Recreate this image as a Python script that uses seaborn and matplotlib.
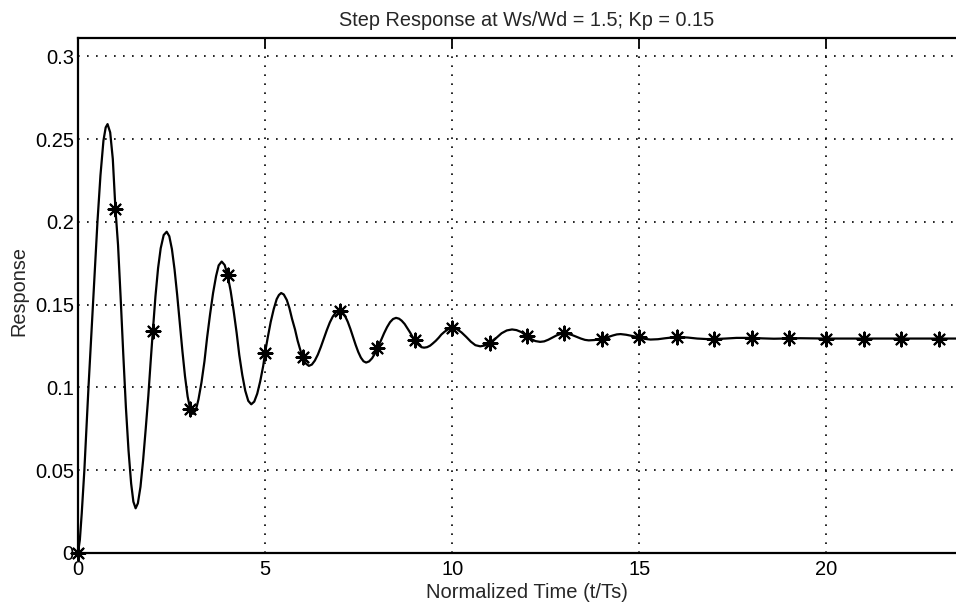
import matplotlib
matplotlib.use("Agg")
import matplotlib.pyplot as plt
import seaborn as sns
import pandas as pd

# ---- data ----
curve_t = [0, 0.05, 0.10, 0.17, 0.28, 0.40, 0.52, 0.60, 0.68, 0.74, 0.79,
           0.86, 0.93, 1.00, 1.07, 1.14, 1.21, 1.28, 1.35, 1.42, 1.48, 1.54,
           1.60, 1.67, 1.74, 1.81, 1.88, 1.94, 2.00, 2.07, 2.14, 2.21, 2.29, 2.37,
           2.44, 2.51, 2.58, 2.65, 2.72, 2.79, 2.86, 2.93, 3.00, 3.07,
           3.15, 3.22, 3.30, 3.38, 3.45, 3.53, 3.61, 3.69, 3.76, 3.84,
           3.92, 4.00, 4.08, 4.16, 4.24, 4.31, 4.39, 4.47, 4.55, 4.63,
           4.71, 4.79, 4.87, 4.95, 5.00, 5.07, 5.15, 5.23, 5.31, 5.37, 5.43,
           5.50, 5.58, 5.65, 5.72, 5.80, 5.87, 5.94, 6.00, 6.08, 6.17,
           6.25, 6.33, 6.41, 6.49, 6.57, 6.65, 6.73, 6.81, 6.89, 6.98, 7.00,
           7.07, 7.14, 7.21, 7.28, 7.35, 7.42, 7.49, 7.56, 7.63, 7.70,
           7.78, 7.86, 7.94, 8.00, 8.10, 8.18, 8.26, 8.34, 8.42, 8.50,
           8.58, 8.65, 8.73, 8.80, 8.88, 8.95, 9.00, 9.10, 9.18, 9.25,
           9.33, 9.41, 9.48, 9.56, 9.64, 9.71, 9.79, 9.87, 9.94, 10.00,
           10.12, 10.25, 10.38, 10.50, 10.62, 10.75,
           10.89, 11.00, 11.18, 11.32, 11.46, 11.60,
           11.72, 11.85, 12.00, 12.10, 12.22, 12.35,
           12.46, 12.57, 12.68, 12.79, 12.90, 13.00,
           13.12, 13.22, 13.33, 13.44, 13.55, 13.65,
           13.80, 14.00, 14.15, 14.30, 14.40, 14.50,
           14.65, 14.80, 15.00, 15.15, 15.30,
           15.50, 15.70, 15.90, 16.05, 16.30, 16.55, 16.80, 17.00,
           17.30, 17.60, 17.90, 18.00, 18.30, 18.60, 18.90, 19.00,
           19.30, 19.60, 20.00, 20.50, 21.00, 22.00, 23.00, 24.00]
curve_y = [0, 0.008, 0.024, 0.050, 0.100, 0.150, 0.200, 0.228, 0.249, 0.257, 0.259,
           0.254, 0.238, 0.208, 0.186, 0.154, 0.120, 0.088, 0.062, 0.042, 0.031, 0.027,
           0.030, 0.040, 0.056, 0.075, 0.095, 0.115, 0.134, 0.155, 0.172, 0.184, 0.192, 0.194,
           0.1913, 0.1835, 0.1713, 0.156, 0.139, 0.122, 0.1067, 0.0945, 0.0867, 0.084,
           0.0863, 0.0928, 0.103, 0.1158, 0.130, 0.1442, 0.157, 0.1672, 0.1737, 0.176,
           0.1739, 0.1676, 0.1582, 0.1462, 0.1329, 0.1196, 0.1076, 0.098, 0.0919, 0.0898,
           0.0914, 0.0962, 0.1037, 0.113, 0.121, 0.130, 0.1395, 0.1472, 0.1533, 0.1558, 0.157,
           0.1561, 0.1528, 0.1479, 0.1414, 0.135, 0.1282, 0.1227, 0.1183, 0.1146, 0.113,
           0.1138, 0.1162, 0.1198, 0.1244, 0.1295, 0.1346, 0.1392, 0.1428, 0.1452, 0.1460, 0.1460,
           0.1452, 0.143, 0.1396, 0.1353, 0.1305, 0.1257, 0.1214, 0.118, 0.1158, 0.115,
           0.1157, 0.1176, 0.1206, 0.1235, 0.1285, 0.1327, 0.1364, 0.1394, 0.1413, 0.142,
           0.1415, 0.1403, 0.1383, 0.1358, 0.133, 0.1302, 0.1285, 0.1257, 0.1243, 0.124,
           0.1243, 0.1252, 0.1265, 0.1281, 0.130, 0.1319, 0.1335, 0.1348, 0.1357, 0.136,
           0.1353, 0.1332, 0.1304, 0.1276, 0.1255, 0.1248,
           0.1254, 0.1268, 0.1299, 0.1327, 0.1344, 0.135,
           0.1346, 0.1334, 0.1309, 0.1294, 0.128, 0.1275,
           0.1278, 0.1288, 0.1301, 0.1314, 0.1323, 0.1326,
           0.1322, 0.1315, 0.1305, 0.1295, 0.1287, 0.1284,
           0.1286, 0.1292, 0.1303, 0.1314, 0.132, 0.1322,
           0.1318, 0.1311, 0.1302, 0.1293, 0.1289,
           0.1291, 0.1297, 0.1302, 0.1304, 0.1301, 0.1295, 0.1292, 0.1292,
           0.1295, 0.1299, 0.1299, 0.1299, 0.1296, 0.1294, 0.1295, 0.1296,
           0.1297, 0.1296, 0.1295, 0.1295, 0.1295, 0.1295, 0.1295, 0.1295]

sample_t = list(range(0, 24))
sample_y = [0.0, 0.208, 0.134, 0.0867, 0.1676, 0.121, 0.1183, 0.146, 0.1235,
            0.1285, 0.136, 0.1268, 0.1309, 0.1326, 0.1292, 0.1302, 0.1303,
            0.1292, 0.1299, 0.1296, 0.1295, 0.1295, 0.1295, 0.1295]

x_ticks = [0, 5, 10, 15, 20]
y_ticks = [0, 0.05, 0.1, 0.15, 0.2, 0.25, 0.3]
y_tick_labels = ["0", "0.05", "0.1", "0.15", "0.2", "0.25", "0.3"]

title = "Step Response at Ws/Wd = 1.5; Kp = 0.15"
x_label = "Normalized Time (t/Ts)"
y_label = "Response"

# ---- plotting ----
sns.set_style("white")
plt.rcParams["font.family"] = ["Liberation Sans", "DejaVu Sans"]

fig = plt.figure(figsize=(9.56, 6.14), dpi=100)
ax = fig.add_axes([78 / 956, 61 / 614, (976 - 78) / 956, (553 - 38) / 614])

curve_df = pd.DataFrame({"t": curve_t, "y": curve_y})
sample_df = pd.DataFrame({"t": sample_t, "y": sample_y})

sns.lineplot(data=curve_df, x="t", y="y", ax=ax, color="black", linewidth=1.6,
             estimator=None, sort=False, zorder=3)
sns.scatterplot(data=sample_df, x="t", y="y", ax=ax, marker=(8, 2, 0), s=100,
                color="black", linewidth=1.5, zorder=4, clip_on=False)

ax.set_xlim(0, 24)
ax.set_ylim(0, 0.311)
ax.set_xticks(x_ticks)
ax.set_xticklabels([str(v) for v in x_ticks])
ax.set_yticks(y_ticks)
ax.set_yticklabels(y_tick_labels)

ax.grid(True, color="black", linestyle=(0, (1, 4.4)), linewidth=1.2)
ax.set_axisbelow(True)

for s in ax.spines.values():
    s.set_visible(True)
    s.set_color("black")
    s.set_linewidth(1.6)

ax.tick_params(axis="both", direction="in", length=7, width=1.3, colors="black",
               top=True, right=True, labelsize=14.5, pad=5)
ax.tick_params(axis="y", pad=3)

ax.set_title(title, fontsize=14.3, pad=9)
ax.set_xlabel(x_label, fontsize=14.5, labelpad=3)
ax.set_ylabel(y_label, fontsize=14.3, labelpad=5)
ax.yaxis.label.set_y(0.509)

fig.savefig("out.png", dpi=100)
